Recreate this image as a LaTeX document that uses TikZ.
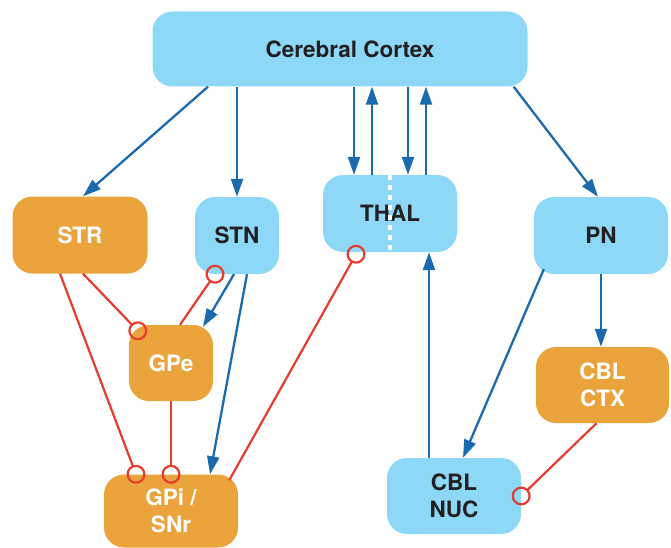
\documentclass[tikz,border=0pt]{standalone}
\usepackage{fontspec}
\setmainfont{TeX Gyre Heros}
\usetikzlibrary{calc}
\usetikzlibrary{arrows.meta}

\definecolor{boxblue}{HTML}{8ED8F7}
\definecolor{boxorange}{HTML}{EAA43B}
\definecolor{linkblue}{HTML}{1A6AAD}
\definecolor{linkred}{HTML}{E43D30}
\definecolor{textdark}{HTML}{231F20}

\begin{document}
\begin{tikzpicture}[x=1pt, y=-1pt,
  region/.style={rounded corners=20pt, inner sep=0pt, align=center, font=\fontsize{22.5}{27}\selectfont\bfseries},
  bluebox/.style={region, fill=boxblue, text=textdark},
  orangebox/.style={region, fill=boxorange, text=white},
  excite/.style={linkblue, line width=2.3pt, -{Triangle[length=18pt,width=12pt]}},
  inhibit/.style={linkred, line width=2.2pt, -{Circle[open,length=19pt]}, shorten >=-9.5pt}]
\useasboundingbox (0,0) rectangle (671,548);

\node[bluebox, minimum width=375pt, minimum height=75pt] (ctx) at (340,49) {\hspace*{20pt}Cerebral Cortex};
\node[orangebox, minimum width=135pt, minimum height=77pt] (str) at (80,235) {STR};
\node[bluebox, minimum width=84pt, minimum height=77pt] (stn) at (237,235.5) {STN};
\node[orangebox, minimum width=84pt, minimum height=76pt] (gpe) at (171,363) {GPe};
\node[orangebox, minimum width=134pt, minimum height=73pt] (gpi) at (171,511) {GPi /\\SNr};
\node[bluebox, minimum width=134pt, minimum height=77pt] (thal) at (390,213.5) {THAL};
\node[bluebox, minimum width=134pt, minimum height=77pt] (pn) at (601,235.5) {PN};
\node[orangebox, minimum width=133pt, minimum height=76pt] (cblctx) at (602.5,385) {CBL\\CTX};
\node[bluebox, minimum width=134pt, minimum height=76pt] (cblnuc) at (454,496) {CBL\\NUC};

% split of the thalamus
\draw[white, line width=4.5pt, dash pattern=on 5pt off 5pt] (thal.north) -- (thal.south);

% excitatory
\draw[excite] ([xshift=-132pt]ctx.south) -- ([xshift=3pt]str.north);
\draw[excite] (ctx.south -| stn.north) -- (stn.north);
\foreach \dx in {-36,18} {
 \draw[excite] ($(thal.north |- ctx.south)+(\dx,0)$) -- ($(thal.north)+(\dx,0)$);
}
\foreach \dx in {-18,36} {
 \draw[excite] ($(thal.north)+(\dx,0)$) -- ($(thal.north |- ctx.south)+(\dx,0)$);
}
\draw[excite] ([xshift=-14pt]ctx.south east) -- ([xshift=-3pt]pn.north);
\draw[excite] ([xshift=-3pt]stn.south) -- ([xshift=32pt,yshift=-2pt]gpe.north);
\draw[excite] ([xshift=10pt]stn.south) -- ([xshift=39pt]gpi.north);
\draw[excite] ([xshift=-25pt]cblnuc.north) -- ([xshift=39pt]thal.south);
\draw[excite] ([xshift=10pt,yshift=5pt]pn.south west) -- ([xshift=9pt]cblnuc.north);
\draw[excite] (pn.south) -- (pn.south |- cblctx.north);

% inhibitory
\draw[inhibit] ([xshift=3pt]str.south) -- ([xshift=9pt,yshift=-6pt]gpe.north west);
\draw[inhibit] ([xshift=-20pt]str.south) -- ([xshift=-35pt]gpi.north);
\draw[inhibit] ([xshift=9pt]gpe.north) -- ([xshift=-22pt]stn.south);
\draw[inhibit] (gpe.south) -- (gpi.north);
\draw[inhibit] ([xshift=-9pt,yshift=-6pt]gpi.north east) -- ([xshift=-34pt,yshift=-2pt]thal.south);
\draw[inhibit] ([xshift=-6pt]cblctx.south) -- (cblnuc.east);
\end{tikzpicture}
\end{document}
